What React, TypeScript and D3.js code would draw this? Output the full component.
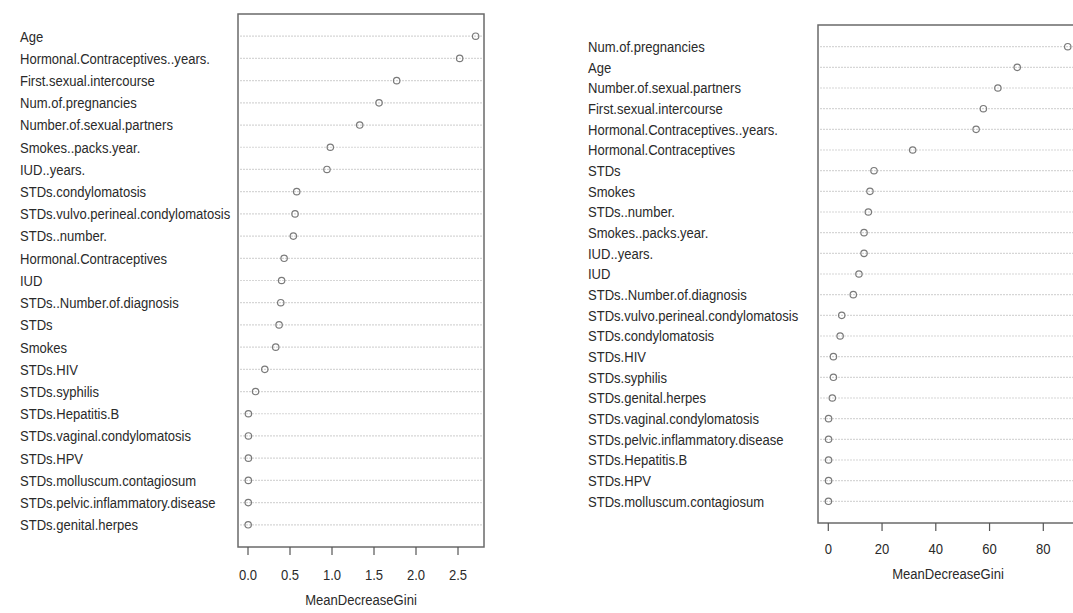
import * as d3 from "d3";

const leftLabels = [
  "Age",
  "Hormonal.Contraceptives..years.",
  "First.sexual.intercourse",
  "Num.of.pregnancies",
  "Number.of.sexual.partners",
  "Smokes..packs.year.",
  "IUD..years.",
  "STDs.condylomatosis",
  "STDs.vulvo.perineal.condylomatosis",
  "STDs..number.",
  "Hormonal.Contraceptives",
  "IUD",
  "STDs..Number.of.diagnosis",
  "STDs",
  "Smokes",
  "STDs.HIV",
  "STDs.syphilis",
  "STDs.Hepatitis.B",
  "STDs.vaginal.condylomatosis",
  "STDs.HPV",
  "STDs.molluscum.contagiosum",
  "STDs.pelvic.inflammatory.disease",
  "STDs.genital.herpes",
];
const leftValues = [
  2.71, 2.52, 1.77, 1.56, 1.33, 0.98, 0.94, 0.58, 0.56, 0.54, 0.43, 0.4, 0.39, 0.37, 0.33, 0.2, 0.09,
  0.005, 0.005, 0.005, 0.004, 0.003, 0.002,
];
const leftTicks = [0, 0.5, 1, 1.5, 2, 2.5];

const rightLabels = [
  "Num.of.pregnancies",
  "Age",
  "Number.of.sexual.partners",
  "First.sexual.intercourse",
  "Hormonal.Contraceptives..years.",
  "Hormonal.Contraceptives",
  "STDs",
  "Smokes",
  "STDs..number.",
  "Smokes..packs.year.",
  "IUD..years.",
  "IUD",
  "STDs..Number.of.diagnosis",
  "STDs.vulvo.perineal.condylomatosis",
  "STDs.condylomatosis",
  "STDs.HIV",
  "STDs.syphilis",
  "STDs.genital.herpes",
  "STDs.vaginal.condylomatosis",
  "STDs.pelvic.inflammatory.disease",
  "STDs.Hepatitis.B",
  "STDs.HPV",
  "STDs.molluscum.contagiosum",
];
const rightValues = [
  89.1, 70.3, 63.1, 57.7, 55.0, 31.4, 17.0, 15.5, 14.9, 13.3, 13.3, 11.4, 9.3, 5.0, 4.4, 1.9, 1.9, 1.5,
  0.1, 0.1, 0.1, 0.1, 0.05,
];
const rightTicks = [0, 20, 40, 60, 80];

// no narrow font installed, so squeeze Liberation Sans horizontally
const FONT = "'Liberation Sans Narrow', 'Liberation Sans', Arial, sans-serif";
const SQUEEZE = 0.87;
const TEXT_FILL = "#2a2a2a";

type PanelProps = {
  labels: string[];
  values: number[];
  ticks: number[];
  tickFormat: (d: number) => string;
  labelX: number;
  box: { left: number; right: number; top: number; bottom: number };
  xDomain: [number, number];
  xRange: [number, number];
  rowPadding: number;
  tickLabelY: number;
  titleY: number;
};

function NarrowText({ x, y, anchor = "start", children }: { x: number; y: number; anchor?: string; children: string }) {
  return (
    <text
      transform={`translate(${x},${y}) scale(${SQUEEZE},1)`}
      dy="0.36em"
      textAnchor={anchor}
      fontSize={15}
      fill={TEXT_FILL}
    >
      {children}
    </text>
  );
}

function DotPanel({ labels, values, ticks, tickFormat, labelX, box, xDomain, xRange, rowPadding, tickLabelY, titleY }: PanelProps) {
  const x = d3.scaleLinear().domain(xDomain).range(xRange);
  const y = d3.scalePoint<string>().domain(labels).range([box.top, box.bottom]).padding(rowPadding);
  const mid = (box.left + box.right) / 2;

  return (
    <g fontFamily={FONT}>
      {labels.map((label, i) => (
        <g key={label}>
          <line
            x1={box.left + 2}
            x2={box.right - 2}
            y1={y(label)}
            y2={y(label)}
            stroke="#d6d6d6"
            strokeWidth={1.2}
            strokeDasharray="2 1"
          />
          <NarrowText x={labelX} y={y(label) ?? 0}>
            {label}
          </NarrowText>
          <circle cx={x(values[i])} cy={y(label)} r={3.2} fill="none" stroke="#7a7a7a" strokeWidth={1.2} />
        </g>
      ))}
      <rect
        x={box.left}
        y={box.top}
        width={box.right - box.left}
        height={box.bottom - box.top}
        fill="none"
        stroke="#6a6a6a"
        strokeWidth={1.5}
      />
      {ticks.map((t) => (
        <g key={t}>
          <line x1={x(t)} x2={x(t)} y1={box.bottom} y2={box.bottom + 8} stroke="#555" strokeWidth={1.2} />
          <NarrowText x={x(t)} y={tickLabelY} anchor="middle">
            {tickFormat(t)}
          </NarrowText>
        </g>
      ))}
      <NarrowText x={mid} y={titleY} anchor="middle">
        MeanDecreaseGini
      </NarrowText>
    </g>
  );
}

export default function App() {
  return (
    <svg
      width={1073}
      height={613}
      style={{ position: "absolute", left: 0, top: 0, background: "#fff" }}
    >
      <rect width={1073} height={613} fill="#fff" />
      <DotPanel
        labels={leftLabels}
        values={leftValues}
        ticks={leftTicks}
        tickFormat={d3.format(".1f")}
        labelX={20}
        box={{ left: 238, right: 484, top: 14, bottom: 547 }}
        xDomain={[0, 2.5]}
        xRange={[248, 458]}
        rowPadding={1}
        tickLabelY={575}
        titleY={600}
      />
      <DotPanel
        labels={rightLabels}
        values={rightValues}
        ticks={rightTicks}
        tickFormat={d3.format("d")}
        labelX={588}
        box={{ left: 818, right: 1078, top: 25, bottom: 523 }}
        xDomain={[0, 80]}
        xRange={[828.3, 1043.3]}
        rowPadding={1.05}
        tickLabelY={549}
        titleY={574}
      />
    </svg>
  );
}
